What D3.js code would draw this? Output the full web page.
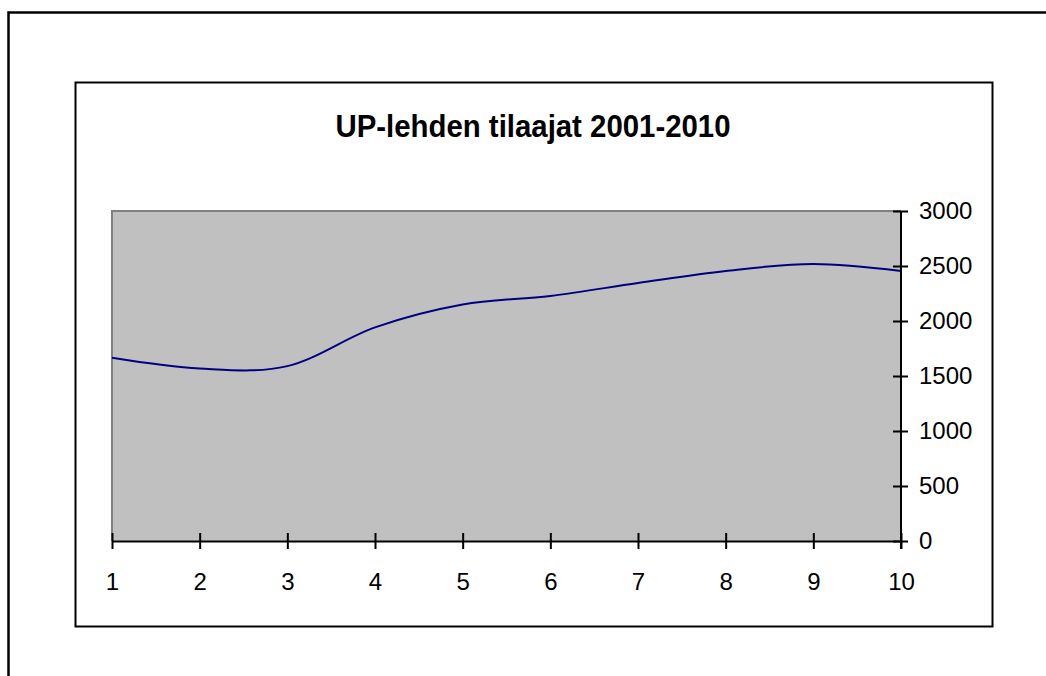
<!DOCTYPE html>
<html>
<head>
<meta charset="utf-8">
<script src="https://cdn.jsdelivr.net/npm/d3@7"></script>
<style>
  body { margin: 0; background: #fff; }
  svg text { font-family: "Liberation Sans", Arial, sans-serif; }
</style>
</head>
<body>
<div id="chart"></div>
<script>
// tilaajat vuosittain (vuosi 1 = 2001)
const years = [1, 2, 3, 4, 5, 6, 7, 8, 9, 10];
const subscribers = [1665, 1568, 1590, 1942, 2150, 2228, 2345, 2455, 2518, 2455];
const yTicks = [0, 500, 1000, 1500, 2000, 2500, 3000];
const title = "UP-lehden tilaajat 2001-2010";

const width = 1046, height = 676;
const plot = { left: 112, right: 901, top: 211, bottom: 541 };

const svg = d3.select("#chart")
    .append("svg")
    .attr("width", width)
    .attr("height", height);

// outer frame (continues past the page edge)
svg.append("rect")
    .attr("x", 8.5).attr("y", 12.5)
    .attr("width", 1100).attr("height", 700)
    .attr("fill", "none")
    .attr("stroke", "#000")
    .attr("stroke-width", 2.5);

// chart box
svg.append("rect")
    .attr("x", 75.5).attr("y", 82.5)
    .attr("width", 917).attr("height", 544)
    .attr("fill", "#fff")
    .attr("stroke", "#000")
    .attr("stroke-width", 2);

svg.append("text")
    .attr("x", 533)
    .attr("y", 137)
    .attr("text-anchor", "middle")
    .attr("textLength", 395)
    .attr("lengthAdjust", "spacingAndGlyphs")
    .style("font-size", "32px")
    .style("font-weight", "bold")
    .text(title);

const x = d3.scaleLinear().domain([1, 10]).range([plot.left, plot.right]);
const y = d3.scaleLinear().domain([0, 3000]).range([plot.bottom, plot.top]);

// plot area
svg.append("rect")
    .attr("x", plot.left).attr("y", plot.top)
    .attr("width", plot.right - plot.left)
    .attr("height", plot.bottom - plot.top)
    .attr("fill", "#c0c0c0");

svg.append("path")
    .attr("d", `M${plot.left},${plot.bottom}V${plot.top}H${plot.right}`)
    .attr("fill", "none")
    .attr("stroke", "#808080")
    .attr("stroke-width", 2);

const line = d3.line()
    .x((d, i) => x(years[i]))
    .y(d => y(d))
    .curve(d3.curveCardinal.tension(0));

svg.append("path")
    .datum(subscribers)
    .attr("d", line)
    .attr("fill", "none")
    .attr("stroke", "#000080")
    .attr("stroke-width", 2);

// x axis (cross ticks)
const xAxis = svg.append("g")
    .attr("transform", `translate(0,${plot.bottom})`)
    .call(d3.axisBottom(x).tickValues(years).tickFormat(d3.format("d"))
        .tickSizeInner(8).tickSizeOuter(0).tickPadding(24));
xAxis.select(".domain").attr("stroke", "#000").attr("stroke-width", 2);
xAxis.selectAll(".tick line").attr("y1", -8).attr("stroke", "#000").attr("stroke-width", 2);
xAxis.selectAll(".tick text")
    .attr("fill", "#000")
    .style("font-size", "24px")
    .style("font-family", "'Liberation Sans', Arial, sans-serif");

// y axis on the right
const yAxis = svg.append("g")
    .attr("transform", `translate(${plot.right},0)`)
    .call(d3.axisRight(y).tickValues(yTicks).tickFormat(d3.format("d"))
        .tickSizeInner(7).tickSizeOuter(0).tickPadding(11));
yAxis.select(".domain").attr("stroke", "#000").attr("stroke-width", 2)
    .attr("d", `M0,${plot.top}V${plot.bottom + 8}`);
yAxis.selectAll(".tick line").attr("x1", -8).attr("stroke", "#000").attr("stroke-width", 2);
yAxis.selectAll(".tick text")
    .attr("fill", "#000")
    .style("font-size", "24px")
    .style("font-family", "'Liberation Sans', Arial, sans-serif");
</script>
</body>
</html>
